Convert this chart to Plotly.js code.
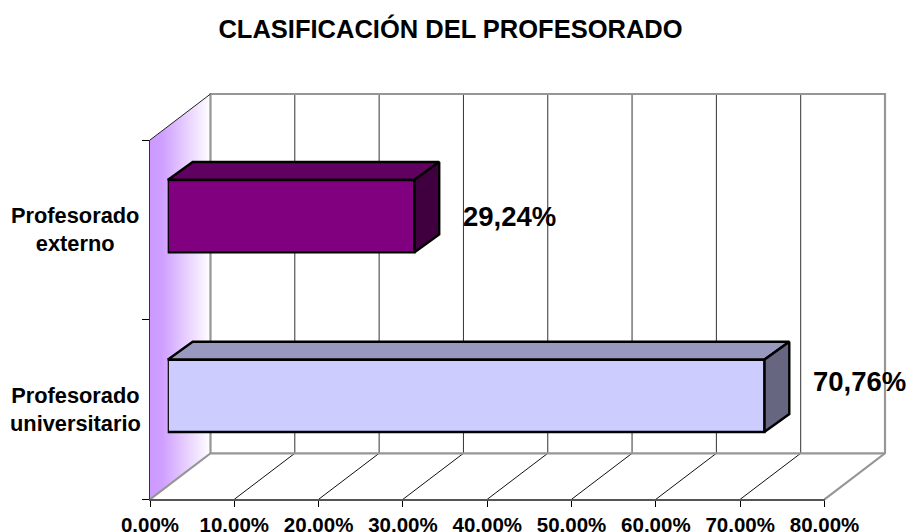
<!DOCTYPE html>
<html><head><meta charset="utf-8">
<script src="https://cdn.plot.ly/plotly-3.0.1.min.js"></script>
<style>html,body{margin:0;padding:0;background:#fff}</style></head>
<body><div id="chart" style="width:909px;height:532px"></div>
<script>
// data
var categories = ['Profesorado<br>universitario', 'Profesorado<br>externo'];
var values = [70.76, 29.24];
var valueLabels = ['70,76%', '29,24%'];
var xTicks = [0, 10, 20, 30, 40, 50, 60, 70, 80];
var xTickLabels = ['0.00%', '10.00%', '20.00%', '30.00%', '40.00%', '50.00%', '60.00%', '70.00%', '80.00%'];
var faceColors = ['#CCCCFF', '#800080'];
var topColors = ['#9999BF', '#600060'];
var sideColors = ['#666680', '#400040'];
var chartTitle = 'CLASIFICACIÓN DEL PROFESORADO';

// frame of the 3-D projection, in pixels
var W = 909, H = 532;
var L = 150, R = 824.5, T = 140, B = 499.3;
var wallDX = 60.5, wallDY = 46, barDX = 17.7, barDY = 13.6, depthDX = 25, depthDY = 18, pad = 3;
var labelRaise = [27.6, 13.6];
var xMax = 80, ux = (R - L) / xMax, uy = (B - T) / 2;
var bargap = 0.597, halfBar = (1 - bargap) / 2;
var wx = wallDX / ux, wy = wallDY / uy;
var bx = barDX / ux, by = barDY / uy, dx = depthDX / ux, dy = depthDY / uy;
var FONT = '"Liberation Sans", Arial, sans-serif';
var yLo = -0.5, yHi = 1.5;

var traces = [];
function poly(xs, ys, opts) {
  traces.push(Object.assign({type: 'scatter', mode: 'lines', x: xs, y: ys, xaxis: 'x', yaxis: 'y',
    hoverinfo: 'skip', showlegend: false}, opts));
}
// left wall
poly([0, wx, wx, 0, 0], [yLo, yLo + wy, yHi + wy, yHi, yLo], {
  fill: 'toself', line: {width: 0},
  fillgradient: {type: 'horizontal', colorscale: [[0, '#CC99FF'], [0.2, '#CF9FFF'], [1, '#FFFFFF']]}
});
// grid on the back wall and floor
var gx = [], gy = [], fx = [], fy = [];
xTicks.slice(1, -1).forEach(function (t) {
  gx.push(t + wx, t + wx, null); gy.push(yLo + wy, yHi + wy, null);
  fx.push(t, t + wx, null); fy.push(yLo, yLo + wy, null);
});
poly(gx, gy, {line: {color: '#333333', width: 1}});
poly(fx, fy, {line: {color: '#111111', width: 1}});
// wall frame
poly([xMax, xMax + wx, xMax + wx, wx, wx, 0], [yLo, yLo + wy, yHi + wy, yHi + wy, yLo + wy, yLo],
  {line: {color: '#969696', width: 2.2}});
poly([wx, xMax + wx], [yLo + wy, yLo + wy], {line: {color: '#969696', width: 2.2}});
poly([0, wx], [yHi, yHi + wy], {line: {color: '#222222', width: 1}});

// top and side faces of the bars
values.forEach(function (v, i) {
  var x0 = bx, x1 = v + bx, yb = i - halfBar + by, yt = i + halfBar + by;
  poly([x0, x0 + dx, x1 + dx, x1, x0], [yt, yt + dy, yt + dy, yt, yt], {
    fill: 'toself', fillcolor: topColors[i], line: {color: '#000', width: 2.4}});
  poly([x1, x1 + dx, x1 + dx, x1, x1], [yb, yb + dy, yt + dy, yt, yb], {
    fill: 'toself', fillcolor: sideColors[i], line: {color: '#000', width: 2.4}});
});
// front faces
traces.push({type: 'bar', orientation: 'h', x: values, y: categories, xaxis: 'x2', yaxis: 'y2',
  marker: {color: faceColors, line: {color: '#000', width: 2.4}}, hoverinfo: 'skip', showlegend: false});
// carrier for the visible value and category axes
traces.push({type: 'scatter', mode: 'none', x: [0, xMax], y: [yLo, yHi], xaxis: 'x3', yaxis: 'y3',
  hoverinfo: 'skip', showlegend: false});

var annotations = [];
categories.forEach(function (c, i) {
  annotations.push({xref: 'paper', yref: 'y3', x: 75 / W, y: i, text: c, showarrow: false,
    xanchor: 'center', yanchor: 'middle', align: 'center', font: {family: FONT, size: 21.8, color: '#000', weight: 700}});
  annotations.push({xref: 'x3', yref: 'y3', x: values[i], y: i, xshift: barDX + 46.5, yshift: labelRaise[i], text: valueLabels[i],
    showarrow: false, xanchor: 'left', yanchor: 'middle', font: {family: FONT, size: 27.5, color: '#000', weight: 700}});
});

var layout = {
  width: W, height: H, autosize: false, margin: {l: 0, r: 0, t: 0, b: 0},
  paper_bgcolor: '#fff', plot_bgcolor: 'rgba(0,0,0,0)', showlegend: false, bargap: bargap,
  title: {text: chartTitle, x: 450.5 / W, xanchor: 'center', y: 1 - 29 / H, yanchor: 'middle',
    font: {family: FONT, size: 25.5, color: '#000', weight: 700}},
  // geometry axes: cover the whole projected box
  xaxis: {domain: [(L - pad) / W, (R + wallDX + pad) / W], range: [-pad / ux, xMax + wx + pad / ux], visible: false, anchor: 'y', fixedrange: true},
  yaxis: {domain: [(H - B - pad) / H, (H - T + wallDY + pad) / H], range: [yLo - pad / uy, yHi + wy + pad / uy], visible: false, anchor: 'x', fixedrange: true},
  // bar axes: same scale, shifted into the depth of the box
  xaxis2: {domain: [(L + barDX) / W, (R + barDX) / W], range: [0, xMax], visible: false, anchor: 'y2', fixedrange: true},
  yaxis2: {domain: [(H - B + barDY) / H, (H - T + barDY) / H], range: [yLo, yHi], type: 'category',
    categoryorder: 'array', categoryarray: categories, visible: false, anchor: 'x2', fixedrange: true},
  // visible axes on the front edge of the box
  xaxis3: {domain: [L / W, R / W], range: [0, xMax], anchor: 'y3', tickvals: xTicks, ticktext: xTickLabels, ticks: 'outside',
    ticklen: 6, tickcolor: '#000', showgrid: false, zeroline: false, showline: true, linecolor: '#555555', linewidth: 2,
    tickfont: {family: FONT, size: 20.5, color: '#000', weight: 700}, fixedrange: true},
  yaxis3: {domain: [(H - B) / H, (H - T) / H], range: [yLo, yHi], anchor: 'x3', tickvals: [-0.5, 0.5, 1.5], ticktext: ['', '', ''],
    ticks: 'outside', ticklen: 7, tickcolor: '#000', showgrid: false, zeroline: false, showline: true, linecolor: '#333333', linewidth: 1, fixedrange: true},
  annotations: annotations
};
Plotly.newPlot('chart', traces, layout, {displayModeBar: false, responsive: false});
</script></body></html>
